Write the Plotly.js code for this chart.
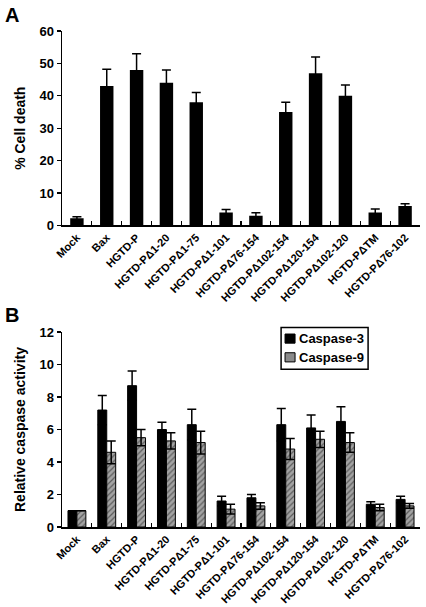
<!DOCTYPE html>
<html>
<head>
<meta charset="utf-8">
<script src="https://cdn.plot.ly/plotly-3.0.1.min.js"></script>
<style>html,body{margin:0;padding:0;background:#fff;}#chart{width:426px;height:607px;}</style>
</head>
<body>
<div id="chart"></div>
<script>
var categories = ["Mock", "Bax", "HGTD-P", "HGTD-PΔ1-20", "HGTD-PΔ1-75", "HGTD-PΔ1-101",
  "HGTD-PΔ76-154", "HGTD-PΔ102-154", "HGTD-PΔ120-154", "HGTD-PΔ102-120", "HGTD-PΔTM", "HGTD-PΔ76-102"];
var cellDeath    = [2.2, 43, 48, 44, 38, 4, 3, 35, 47, 40, 4, 6];
var cellDeathErr = [0.5, 5.2, 5, 4, 3, 0.9, 0.9, 3, 5, 3.3, 1.1, 0.7];
var casp3    = [1.0, 7.2, 8.7, 6.0, 6.3, 1.6, 1.8, 6.3, 6.1, 6.5, 1.4, 1.7];
var casp3Err = [0, 0.9, 0.9, 0.45, 0.95, 0.3, 0.2, 1.0, 0.8, 0.9, 0.15, 0.2];
var casp9    = [1.0, 4.6, 5.5, 5.3, 5.2, 1.1, 1.3, 4.8, 5.4, 5.2, 1.2, 1.3];
var casp9Err = [0, 0.7, 0.5, 0.5, 0.7, 0.3, 0.2, 0.65, 0.5, 0.6, 0.2, 0.15];
var seriesNames = ["Caspase-3", "Caspase-9"];

var FONT = "Liberation Sans, Arial, sans-serif";
var errStyle = {type: 'data', symmetric: true, color: '#000', thickness: 1.5, width: 4.5};

var traces = [
  {type: 'bar', x: categories, y: cellDeath, xaxis: 'x', yaxis: 'y', width: 0.45,
   marker: {color: '#000', line: {color: '#000', width: 0}},
   error_y: Object.assign({array: cellDeathErr}, errStyle), showlegend: false},
  {type: 'bar', name: seriesNames[0], x: categories, y: casp3, xaxis: 'x2', yaxis: 'y2',
   marker: {color: '#000', line: {color: '#000', width: 1}}, showlegend: false,
   error_y: Object.assign({array: casp3Err}, errStyle)},
  {type: 'bar', name: seriesNames[1], x: categories, y: casp9, xaxis: 'x2', yaxis: 'y2',
   marker: {color: '#9a9a9a', line: {color: '#000', width: 1},
     pattern: {shape: '/', bgcolor: '#a3a3a3', fgcolor: '#5e5e5e', size: 4, solidity: 0.3}},
   showlegend: false,
   error_y: Object.assign({array: casp9Err}, errStyle)}
];

var xaxisBase = {
  type: 'category', range: [-0.5, 11.5], showline: true, linecolor: '#000', linewidth: 1.5,
  ticks: 'inside', tickson: 'boundaries', ticklen: 4, tickwidth: 1.2, tickcolor: '#000',
  tickangle: -45, tickfont: {family: FONT, size: 11, color: '#000', weight: 'bold'},
  showgrid: false, zeroline: false, fixedrange: true
};
var yaxisBase = {
  showline: true, linecolor: '#000', linewidth: 1.5, ticks: 'outside', ticklen: 4,
  tickwidth: 1.2, tickcolor: '#000', showgrid: false, zeroline: false,
  tickfont: {family: FONT, size: 13, color: '#000', weight: 'bold'}
};

// custom legend (box, swatches, labels) in the lower panel's domain coordinates
var legShapes = [
  {type: 'rect', xref: 'x2 domain', yref: 'y2 domain', x0: 0.612, x1: 0.855, y0: 0.809, y1: 1.024,
   line: {color: '#000', width: 1.5}, fillcolor: '#fff', layer: 'above'},
  {type: 'rect', xref: 'x2 domain', yref: 'y2 domain', x0: 0.623, x1: 0.651, y0: 0.943, y1: 0.990,
   line: {color: '#000', width: 1}, fillcolor: '#000', layer: 'above'},
  {type: 'rect', xref: 'x2 domain', yref: 'y2 domain', x0: 0.623, x1: 0.651, y0: 0.847, y1: 0.894,
   line: {color: '#000', width: 1}, fillcolor: '#8a8a8a', layer: 'above'}
];
var legAnn = [
  {text: seriesNames[0], xref: 'x2 domain', yref: 'y2 domain', x: 0.657, y: 0.967, xanchor: 'left', yanchor: 'middle',
   showarrow: false, font: {family: FONT, size: 13, color: '#000', weight: 'bold'}},
  {text: seriesNames[1], xref: 'x2 domain', yref: 'y2 domain', x: 0.657, y: 0.870, xanchor: 'left', yanchor: 'middle',
   showarrow: false, font: {family: FONT, size: 13, color: '#000', weight: 'bold'}}
];

var layout = {
  width: 426, height: 607,
  margin: {l: 62, r: 6, t: 31, b: 80},
  paper_bgcolor: '#fff', plot_bgcolor: '#fff',
  barmode: 'group', bargap: 0.4, bargroupgap: 0,
  showlegend: false,
  font: {family: FONT, color: '#000'},
  xaxis: Object.assign({}, xaxisBase, {anchor: 'y'}),
  yaxis: Object.assign({}, yaxisBase, {domain: [0.608, 1], range: [0, 60], dtick: 10, anchor: 'x',
    title: {text: '% Cell death', font: {family: FONT, size: 14, color: '#000', weight: 'bold'}, standoff: 10}}),
  xaxis2: Object.assign({}, xaxisBase, {anchor: 'y2'}),
  yaxis2: Object.assign({}, yaxisBase, {domain: [0, 0.393], range: [0, 12], dtick: 2, anchor: 'x2',
    title: {text: 'Relative caspase activity', font: {family: FONT, size: 14, color: '#000', weight: 'bold'}, standoff: 10}}),
  shapes: legShapes,
  annotations: [
    {text: 'A', xref: 'paper', yref: 'paper', x: -0.165, y: 1.032, xanchor: 'left', yanchor: 'middle',
     showarrow: false, font: {family: FONT, size: 20, color: '#000', weight: 'bold'}},
    {text: 'B', xref: 'paper', yref: 'paper', x: -0.165, y: 0.427, xanchor: 'left', yanchor: 'middle',
     showarrow: false, font: {family: FONT, size: 20, color: '#000', weight: 'bold'}}
  ].concat(legAnn)
};

Plotly.newPlot('chart', traces, layout, {displayModeBar: false, staticPlot: true});
</script>
</body>
</html>
